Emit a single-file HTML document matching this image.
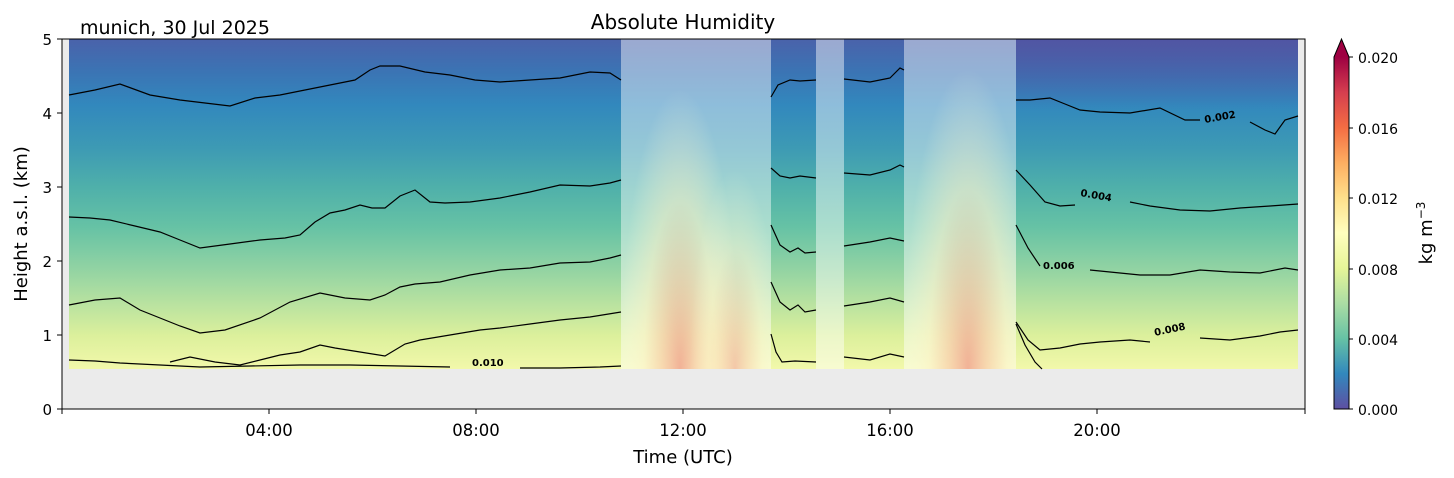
<!DOCTYPE html><html><head><meta charset="utf-8"><style>html,body{margin:0;background:#fff;overflow:hidden;width:1454px;height:478px}svg{display:block;font-family:"DejaVu Sans","Liberation Sans",sans-serif}</style></head><body>
<svg width="1454" height="478" xmlns="http://www.w3.org/2000/svg" style="overflow:hidden">
<defs>
<linearGradient id="bg" x1="0" y1="39" x2="0" y2="369" gradientUnits="userSpaceOnUse">
<stop offset="0" stop-color="#4a62aa"/><stop offset="0.1" stop-color="#3b74b4"/><stop offset="0.2" stop-color="#3288bd"/><stop offset="0.33" stop-color="#3d9ab4"/><stop offset="0.45" stop-color="#4fb0aa"/><stop offset="0.57" stop-color="#66c2a5"/><stop offset="0.69" stop-color="#8fd2a3"/><stop offset="0.8" stop-color="#b8e2a0"/><stop offset="0.9" stop-color="#dcf09c"/><stop offset="1" stop-color="#f2f8aa"/></linearGradient>
<linearGradient id="tr" x1="0" y1="39" x2="0" y2="110" gradientUnits="userSpaceOnUse"><stop offset="0" stop-color="#5450a0" stop-opacity="0.7"/><stop offset="1" stop-color="#5450a0" stop-opacity="0"/></linearGradient>
<radialGradient id="w1" cx="0.5" cy="0.5" r="0.5"><stop offset="0" stop-color="#ee8070" stop-opacity="0.6"/><stop offset="0.3" stop-color="#f8b890" stop-opacity="0.5"/><stop offset="0.6" stop-color="#fdf0c0" stop-opacity="0.45"/><stop offset="1" stop-color="#fefbd8" stop-opacity="0"/></radialGradient>
<linearGradient id="cb" x1="0" y1="409" x2="0" y2="57" gradientUnits="userSpaceOnUse">
<stop offset="0" stop-color="#5e4fa2"/><stop offset="0.1" stop-color="#3288bd"/><stop offset="0.2" stop-color="#66c2a5"/><stop offset="0.3" stop-color="#abdda4"/><stop offset="0.4" stop-color="#e6f598"/><stop offset="0.5" stop-color="#fffebe"/><stop offset="0.6" stop-color="#fee08b"/><stop offset="0.7" stop-color="#fdae61"/><stop offset="0.8" stop-color="#f46d43"/><stop offset="0.9" stop-color="#d53e4f"/><stop offset="1" stop-color="#9e0142"/></linearGradient>
</defs>
<rect x="62" y="39" width="1243" height="370" fill="#ebebeb"/>
<rect x="69" y="39" width="1229" height="330" fill="url(#bg)"/>
<rect x="1016" y="39" width="282" height="71" fill="url(#tr)"/>
<rect x="621" y="39" width="150" height="330" fill="#fff" opacity="0.45"/>
<rect x="816" y="39" width="28" height="330" fill="#fff" opacity="0.45"/>
<rect x="904" y="39" width="112" height="330" fill="#fff" opacity="0.45"/>
<svg x="621" y="39" width="150" height="330" overflow="hidden">
<ellipse cx="59" cy="330" rx="60" ry="280" fill="url(#w1)"/>
<ellipse cx="114" cy="330" rx="45" ry="200" fill="url(#w1)" opacity="0.7"/>
</svg>
<svg x="904" y="39" width="112" height="330" overflow="hidden">
<ellipse cx="64" cy="330" rx="65" ry="300" fill="url(#w1)"/>
</svg>
<g fill="none" stroke="#000" stroke-width="1.2">
<polyline points="69,95 95,90 120,84 150,95 180,100 205,103 230,106 255,98 280,95 305,90 330,85 355,80 370,70 380,66 400,66 425,72 450,75 475,80 500,82 530,80 560,78 590,72 610,73 621,80"/>
<polyline points="69,217 90,218 110,220 135,226 160,232 180,240 200,248 230,244 260,240 285,238 300,235 315,222 330,213 345,210 360,205 372,208 385,208 400,196 415,190 430,202 445,203 470,202 500,198 530,192 560,185 590,186 610,183 621,180"/>
<polyline points="69,305 95,300 120,298 140,310 160,318 180,326 200,333 225,330 260,318 290,302 320,293 345,298 370,300 385,295 400,287 415,284 440,282 470,275 500,270 530,268 560,263 590,262 610,258 621,255"/>
<polyline points="170,362 190,357 215,362 240,365 260,360 280,355 300,352 320,345 335,348 360,352 385,356 405,344 420,340 450,335 480,330 500,328 530,324 560,320 590,317 621,312"/>
<polyline points="69,360 95,361 120,363 160,365 200,367 250,366 300,365 350,365 400,366 450,367"/>
<polyline points="520,368 560,368 600,367 621,366"/>
<polyline points="771,97 778,85 790,80 800,81 816,80"/>
<polyline points="771,168 780,176 790,178 800,176 816,178"/>
<polyline points="771,225 780,245 790,252 798,248 805,253 816,252"/>
<polyline points="771,282 780,302 790,310 798,305 805,312 816,310"/>
<polyline points="771,334 776,352 782,362 795,361 816,362"/>
<polyline points="844,79 870,82 890,78 900,68 904,70"/>
<polyline points="844,173 870,175 890,170 900,165 904,167"/>
<polyline points="844,246 870,242 890,238 904,241"/>
<polyline points="844,306 870,302 890,298 904,302"/>
<polyline points="844,357 870,360 890,354 904,357"/>
<polyline points="1016,100 1030,100 1050,98 1065,104 1080,110 1100,112 1130,113 1160,108 1185,120 1200,120"/>
<polyline points="1250,122 1265,130 1275,134 1285,120 1298,116"/>
<polyline points="1016,170 1030,185 1045,202 1060,206 1075,205"/>
<polyline points="1130,202 1150,206 1180,210 1210,211 1240,208 1270,206 1298,204"/>
<polyline points="1016,225 1028,248 1040,266"/>
<polyline points="1090,270 1110,272 1140,275 1170,275 1200,270 1230,272 1260,273 1285,268 1298,270"/>
<polyline points="1016,322 1028,340 1040,350 1060,348 1080,344 1100,342 1130,340 1150,342"/>
<polyline points="1200,338 1230,340 1260,336 1280,332 1298,330"/>
<polyline points="1016,324 1025,345 1035,362 1042,369"/>
</g>
<g font-size="10" font-weight="bold" fill="#000">
<text x="472" y="366">0.010</text>
<text x="1205" y="123" transform="rotate(-10 1205 123)">0.002</text>
<text x="1080" y="196" transform="rotate(10 1080 196)">0.004</text>
<text x="1043" y="269">0.006</text>
<text x="1155" y="336" transform="rotate(-12 1155 336)">0.008</text>
</g>
<rect x="62" y="39" width="1243" height="370" fill="none" stroke="#000" stroke-width="1"/>
<g stroke="#000" stroke-width="1">
<line x1="269" y1="409" x2="269" y2="414"/><line x1="476" y1="409" x2="476" y2="414"/><line x1="683" y1="409" x2="683" y2="414"/><line x1="890" y1="409" x2="890" y2="414"/><line x1="1097" y1="409" x2="1097" y2="414"/><line x1="62" y1="409" x2="62" y2="414"/><line x1="1305" y1="409" x2="1305" y2="414"/>
<line x1="57" y1="409" x2="62" y2="409"/><line x1="57" y1="335" x2="62" y2="335"/><line x1="57" y1="261" x2="62" y2="261"/><line x1="57" y1="187" x2="62" y2="187"/><line x1="57" y1="113" x2="62" y2="113"/><line x1="57" y1="39" x2="62" y2="39"/>
</g>
<g font-size="16.5" fill="#000" text-anchor="middle">
<text x="269" y="436">04:00</text><text x="476" y="436">08:00</text><text x="683" y="436">12:00</text><text x="890" y="436">16:00</text><text x="1097" y="436">20:00</text>
</g>
<g font-size="15" fill="#000" text-anchor="end">
<text x="52" y="415">0</text><text x="52" y="341">1</text><text x="52" y="267">2</text><text x="52" y="193">3</text><text x="52" y="119">4</text><text x="52" y="45">5</text>
</g>
<text x="683" y="463" font-size="18" text-anchor="middle">Time (UTC)</text>
<text x="27" y="224" font-size="18" text-anchor="middle" transform="rotate(-90 27 224)">Height a.s.l. (km)</text>
<text x="683" y="29" font-size="20" text-anchor="middle">Absolute Humidity</text>
<text x="80" y="34" font-size="19">munich, 30 Jul 2025</text>
<rect x="1334" y="57" width="15" height="352" fill="url(#cb)"/>
<polygon points="1334,57 1341.5,39 1349,57" fill="#9e0142"/>
<polygon points="1334,57 1341.5,39 1349,57 1349,409 1334,409" fill="none" stroke="#000" stroke-width="1"/>
<g stroke="#000"><line x1="1349" y1="57" x2="1353" y2="57"/><line x1="1349" y1="128" x2="1353" y2="128"/><line x1="1349" y1="198" x2="1353" y2="198"/><line x1="1349" y1="269" x2="1353" y2="269"/><line x1="1349" y1="339" x2="1353" y2="339"/><line x1="1349" y1="409" x2="1353" y2="409"/></g>
<g font-size="14" fill="#000">
<text x="1358" y="63">0.020</text><text x="1358" y="134">0.016</text><text x="1358" y="204">0.012</text><text x="1358" y="275">0.008</text><text x="1358" y="345">0.004</text><text x="1358" y="415">0.000</text>
</g>
<text x="1432" y="233" font-size="18" text-anchor="middle" transform="rotate(-90 1432 233)">kg m<tspan font-size="12" dy="-7">−3</tspan></text>
</svg>
</body></html>
